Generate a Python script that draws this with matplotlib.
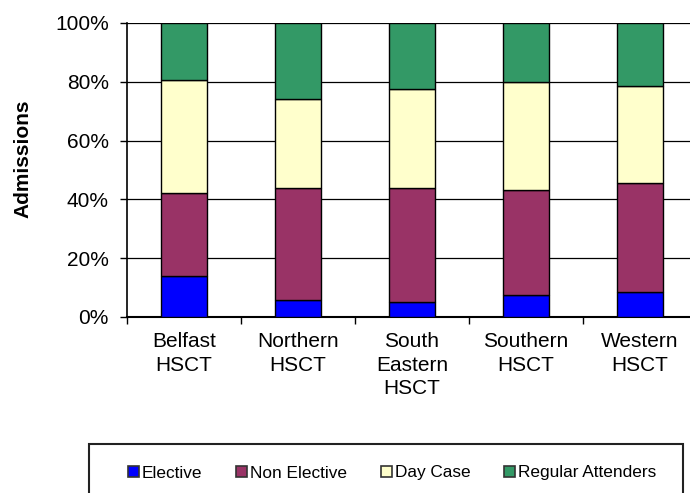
import matplotlib.pyplot as plt
from matplotlib.patches import Rectangle, Patch
import numpy as np

plt.rcParams['font.family'] = ['Liberation Sans', 'DejaVu Sans']

# data (percent of admissions)
trusts = ['Belfast\nHSCT', 'Northern\nHSCT', 'South\nEastern\nHSCT', 'Southern\nHSCT', 'Western\nHSCT']
elective = [14.0, 5.8, 5.1, 7.5, 8.6]
non_elective = [28.2, 38.2, 38.9, 35.8, 37.1]
day_case = [38.3, 30.1, 33.6, 36.6, 33.0]
regular = [19.5, 25.9, 22.4, 20.1, 21.3]

series = [('Elective', elective, '#0000FF'),
          ('Non Elective', non_elective, '#993366'),
          ('Day Case', day_case, '#FFFFCC'),
          ('Regular Attenders', regular, '#339966')]

fig = plt.figure(figsize=(6.9, 4.93), dpi=100)
# plot area runs past the right edge of the picture, as in the reference
ax = fig.add_axes([127/690, 1-317/493, 570/690, (317-23)/493])

x = np.arange(len(trusts))
bottom = np.zeros(len(trusts))
handles = []
for name, vals, col in series:
    ax.bar(x, vals, 0.4, bottom=bottom, color=col, edgecolor='black', linewidth=1.0, zorder=3)
    bottom += np.array(vals)
    handles.append(Patch(facecolor=col, edgecolor='#333333', linewidth=1.2, label=name))

ax.set_ylim(0, 100)
ax.set_xlim(-0.5, 4.5)
ax.set_yticks(np.arange(0, 101, 20))
ax.set_yticklabels(['%d%%' % v for v in range(0, 101, 20)])
ax.yaxis.grid(True, color='black', linewidth=0.9, zorder=0)
ax.set_axisbelow(True)

ax.set_xticks(x)
ax.set_xticklabels(trusts, fontsize=15, linespacing=1.3)
ax.set_xticks(np.arange(-0.5, 4.5, 1), minor=True)
ax.tick_params(axis='x', which='major', length=0, pad=11)
ax.tick_params(axis='x', which='minor', length=5, width=1, direction='out')
ax.tick_params(axis='y', labelsize=15, length=5, width=1, direction='out', pad=8)
ax.spines['top'].set_visible(False)
ax.spines['right'].set_visible(False)
ax.spines['left'].set_linewidth(1.2)
ax.spines['bottom'].set_linewidth(1.5)

ax.set_ylabel('Admissions', fontsize=15, fontweight='bold')
ax.yaxis.set_label_coords(-(127-32)/570, (317-159)/294)

# legend box, cropped by the bottom of the picture like the reference
fig.patches.append(Rectangle((89/690, -0.2), (683-89)/690, 0.2 + (493-444)/493,
                             transform=fig.transFigure, fill=False,
                             edgecolor='#222222', linewidth=1.5))
fig.legend(handles=handles, loc='center left', bbox_to_anchor=(128/690, 1-473/493),
           ncol=4, frameon=False, fontsize=12.4, handlelength=0.66, handleheight=0.55,
           handletextpad=0.15, columnspacing=1.95, borderaxespad=0, borderpad=0)

fig.savefig('out.png', dpi=100)
